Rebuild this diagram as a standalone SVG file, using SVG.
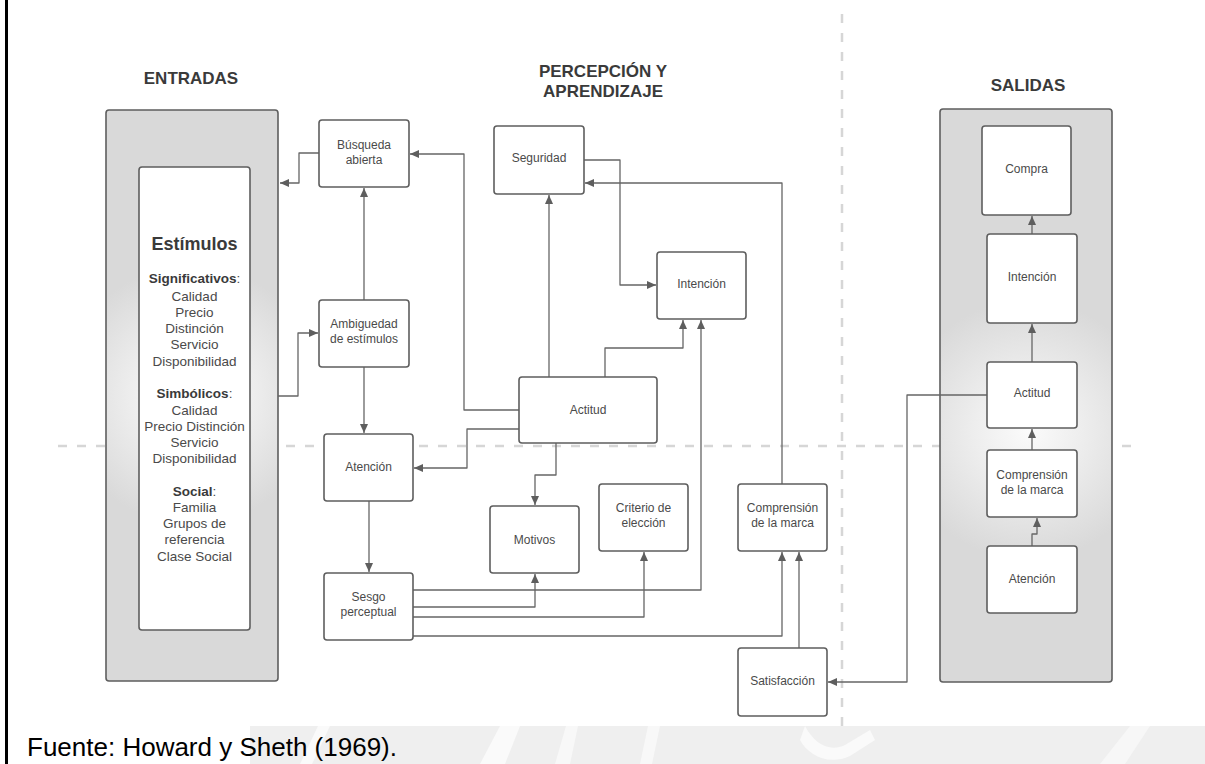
<svg xmlns="http://www.w3.org/2000/svg" width="1205" height="764" viewBox="0 0 1205 764">
<style>
.box{fill:#fff;stroke:#5e5e5e;stroke-width:1.6}
.panel{stroke:#5e5e5e;stroke-width:1.6}
.t{font-family:"Liberation Sans",Arial,sans-serif;font-size:12px;fill:#4a4a4a;text-anchor:middle}
.l{font-family:"Liberation Sans",Arial,sans-serif;font-size:13.5px;fill:#4a4a4a;text-anchor:middle}
.b{font-weight:bold;fill:#3a3a3a}
.h{font-family:"Liberation Sans",Arial,sans-serif;font-size:17px;font-weight:bold;fill:#3a3a3a;text-anchor:middle}
.c{fill:none;stroke:#666;stroke-width:1.3;stroke-linejoin:round;marker-end:url(#ah)}
.dash{stroke:#d6d6d6;stroke-width:2.5;stroke-dasharray:9 10;fill:none}
</style>
<defs>
<marker id="ah" markerUnits="userSpaceOnUse" markerWidth="10" markerHeight="8" refX="9" refY="4" orient="auto">
<path d="M0,0 L9,4 L0,8 z" fill="#5e5e5e"/>
</marker>
<radialGradient id="gl" gradientUnits="userSpaceOnUse" cx="192" cy="395" r="130">
<stop offset="0" stop-color="#fbfbfb"/>
<stop offset="0.4" stop-color="#f0f0f0"/>
<stop offset="1" stop-color="#d9d9d9"/>
</radialGradient>
<radialGradient id="gr" gradientUnits="userSpaceOnUse" cx="1028" cy="430" r="130">
<stop offset="0" stop-color="#fbfbfb"/>
<stop offset="0.4" stop-color="#eeeeee"/>
<stop offset="1" stop-color="#d9d9d9"/>
</radialGradient>
</defs>
<rect width="1205" height="764" fill="#fff"/>
<g id="watermark">
<rect x="250" y="726" width="955" height="38" fill="#efefef"/>
<polygon points="300,764 318,726 330,726 312,764" fill="#fafafa"/>
<polygon points="480,764 500,726 520,726 505,764" fill="#fafafa"/>
<polygon points="555,764 566,726 578,726 570,764" fill="#f8f8f8"/>
<polygon points="640,764 648,726 660,726 652,764" fill="#f8f8f8"/>
<path d="M805,726 C815,745 830,752 845,745 L870,730 L875,740 L850,756 C828,766 808,755 800,740 Z" fill="#fafafa"/>
<polygon points="1100,764 1130,726 1150,726 1125,764" fill="#f7f7f7"/>
</g>
<line x1="6.5" y1="0" x2="6.5" y2="764" stroke="#000" stroke-width="3"/>
<g id="dividers">
<line class="dash" x1="842" y1="14" x2="842" y2="727"/>
<line class="dash" x1="58" y1="446" x2="1133" y2="446"/>
</g>
<g id="titles">
<text class="h" x="191" y="84">ENTRADAS</text>
<text class="h" x="603" y="77">PERCEPCIÓN Y</text>
<text class="h" x="603" y="97">APRENDIZAJE</text>
<text class="h" x="1028" y="91">SALIDAS</text>
</g>
<g id="entradas">
<rect class="panel" x="106" y="110" width="172" height="571" rx="3" fill="url(#gl)"/>
<rect class="box" x="139" y="167" width="111" height="463" rx="3"/>
<text class="l b" x="194.5" y="250" style="font-size:18px">Estímulos</text>
<text class="l" x="194.5" y="283"><tspan class="b">Significativos</tspan>:</text>
<text class="l" x="194.5" y="301">Calidad</text>
<text class="l" x="194.5" y="317">Precio</text>
<text class="l" x="194.5" y="333">Distinción</text>
<text class="l" x="194.5" y="349">Servicio</text>
<text class="l" x="194.5" y="366">Disponibilidad</text>
<text class="l" x="194.5" y="398"><tspan class="b">Simbólicos</tspan>:</text>
<text class="l" x="194.5" y="415">Calidad</text>
<text class="l" x="194.5" y="431">Precio Distinción</text>
<text class="l" x="194.5" y="447">Servicio</text>
<text class="l" x="194.5" y="463">Disponibilidad</text>
<text class="l" x="194.5" y="496"><tspan class="b">Social</tspan>:</text>
<text class="l" x="194.5" y="512">Familia</text>
<text class="l" x="194.5" y="528">Grupos de</text>
<text class="l" x="194.5" y="544">referencia</text>
<text class="l" x="194.5" y="561">Clase Social</text>
</g>
<g id="salidas-panel">
<rect class="panel" x="940" y="109" width="172" height="573" rx="3" fill="url(#gr)"/>
</g>
<g id="connectors">
<path class="c" d="M319,153 H299 V183 H280"/>
<path class="c" d="M278,396 H298 V333 H318"/>
<path class="c" d="M364,300 V188"/>
<path class="c" d="M364,367 V433"/>
<path class="c" d="M369,501 V572"/>
<path class="c" d="M519,410 H464 V154 H410"/>
<path class="c" d="M549,377 V195"/>
<path class="c" d="M584,160 H620 V285 H656"/>
<path class="c" d="M782,484 V183 H585"/>
<path class="c" d="M605,377 V348 H683 V320"/>
<path class="c" d="M413,590 H701 V320"/>
<path class="c" d="M519,429 H467 V468 H414"/>
<path class="c" d="M556,443 V475 H535 V505"/>
<path class="c" d="M413,607 H535 V574"/>
<path class="c" d="M413,617 H644 V552"/>
<path class="c" d="M413,636 H782 V552"/>
<path class="c" d="M799,648 V552"/>
<path class="c" d="M987,395 H907 V682 H828"/>
<path class="c" d="M1032,234 V216"/>
<path class="c" d="M1032,362 V324"/>
<path class="c" d="M1032,450 V429"/>
<path class="c" d="M1032,546 V534 H1037 V518"/>
</g>
<g id="busqueda"><rect class="box" x="319" y="120" width="90" height="67" rx="3"/><text class="t" x="364" y="149">Búsqueda</text><text class="t" x="364" y="164">abierta</text></g>
<g id="ambiguedad"><rect class="box" x="319" y="300" width="90" height="67" rx="3"/><text class="t" x="364" y="328">Ambiguedad</text><text class="t" x="364" y="343">de estímulos</text></g>
<g id="atencion"><rect class="box" x="324" y="434" width="89" height="67" rx="3"/><text class="t" x="368.5" y="471">Atención</text></g>
<g id="sesgo"><rect class="box" x="324" y="573" width="89" height="67" rx="3"/><text class="t" x="368.5" y="601">Sesgo</text><text class="t" x="368.5" y="616">perceptual</text></g>
<g id="seguridad"><rect class="box" x="494" y="126" width="90" height="68" rx="3"/><text class="t" x="539" y="162">Seguridad</text></g>
<g id="intencion"><rect class="box" x="657" y="252" width="89" height="67" rx="3"/><text class="t" x="701.5" y="288">Intención</text></g>
<g id="actitud"><rect class="box" x="519" y="377" width="138" height="66" rx="3"/><text class="t" x="588" y="414">Actitud</text></g>
<g id="motivos"><rect class="box" x="490" y="506" width="89" height="67" rx="3"/><text class="t" x="534.5" y="544">Motivos</text></g>
<g id="criterio"><rect class="box" x="599" y="484" width="89" height="67" rx="3"/><text class="t" x="643.5" y="512">Criterio de</text><text class="t" x="643.5" y="527">elección</text></g>
<g id="comprension"><rect class="box" x="738" y="484" width="89" height="67" rx="3"/><text class="t" x="782.5" y="512">Comprensión</text><text class="t" x="782.5" y="527">de la marca</text></g>
<g id="satisfaccion"><rect class="box" x="738" y="648" width="89" height="68" rx="3"/><text class="t" x="782.5" y="685">Satisfacción</text></g>
<g id="s-compra"><rect class="box" x="982" y="126" width="89" height="89" rx="3"/><text class="t" x="1026.5" y="173">Compra</text></g>
<g id="s-intencion"><rect class="box" x="987" y="234" width="90" height="89" rx="3"/><text class="t" x="1032" y="281">Intención</text></g>
<g id="s-actitud"><rect class="box" x="987" y="362" width="90" height="66" rx="3"/><text class="t" x="1032" y="397">Actitud</text></g>
<g id="s-comprension"><rect class="box" x="987" y="450" width="90" height="67" rx="3"/><text class="t" x="1032" y="479">Comprensión</text><text class="t" x="1032" y="494">de la marca</text></g>
<g id="s-atencion"><rect class="box" x="987" y="546" width="90" height="67" rx="3"/><text class="t" x="1032" y="583">Atención</text></g>
<text x="27" y="756" style="font-family:'Liberation Sans',Arial,sans-serif;font-size:26px;fill:#000">Fuente: Howard y Sheth (1969).</text>
</svg>
